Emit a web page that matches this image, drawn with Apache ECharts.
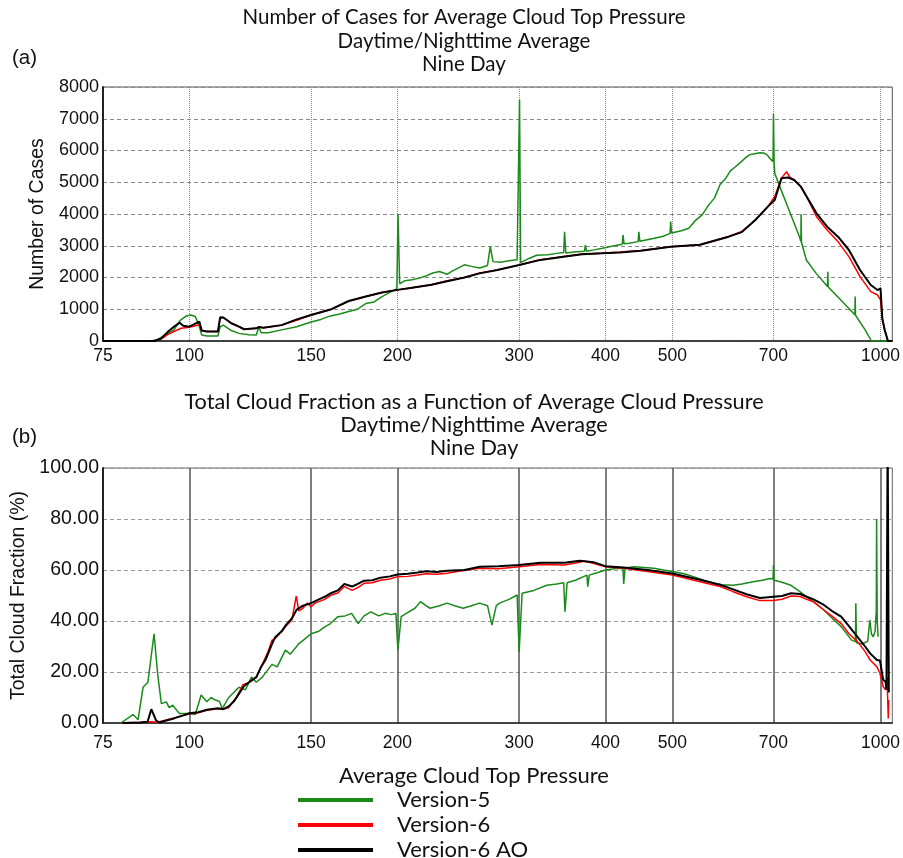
<!DOCTYPE html>
<html>
<head>
<meta charset="utf-8">
<script src="https://cdn.jsdelivr.net/npm/echarts@6/dist/echarts.min.js"></script>
<style>
html,body{margin:0;padding:0;background:#fff;}
#chart{width:903px;height:858px;}
</style>
</head>
<body>
<div id="chart"></div>
<script>
// ---------- tick labels ----------
const pressureTicks = [75, 100, 150, 200, 300, 400, 500, 700, 1000];
const casesTicks = [0, 1000, 2000, 3000, 4000, 5000, 6000, 7000, 8000];
const fractionTicks = [0, 20, 40, 60, 80, 100];
const seriesNames = ['Version-5', 'Version-6', 'Version-6 AO'];

// ---------- panel (a): number of cases ----------
const aPressV5 = [75,88,90,92,95,97,99,100.5,102,103.4,104.2,106,110,110.8,112,115,118,122,125,126,127,130,136,143,150,155,160,165,170,175,180,185,190,195,198,199.6,200.4,201.5,205,210,215,220,225,230,236,240,250,256,263,270,272.5,275,282,290,298,299.6,300.4,301.5,310,318,330,340,348,349,350.5,360,373,374,375.5,385,396,410,423,424,425.5,433,446,447,448.5,469,485,496,497,498.5,515,528,540,552,564,575,586,596,606,616,626,636,647,658,669,677,685,692,699,700,701.5,703,718,734,750,763,767,767.5,768.5,781,807,838,839,840,876,918,919,920,950,970,1040];
const aCasesV5 = [0,0,50,170,350,650,790,820,770,450,190,160,160,450,500,330,240,200,190,450,260,260,350,450,600,680,790,850,930,1000,1180,1230,1400,1530,1610,1640,4000,1800,1900,1930,1980,2050,2140,2190,2100,2200,2400,2350,2300,2380,2980,2500,2480,2530,2560,2570,7600,2470,2600,2700,2720,2760,2790,3440,2770,2800,2830,3020,2830,2870,2920,2990,3050,3340,3060,3080,3130,3440,3140,3230,3300,3390,3760,3400,3470,3550,3800,3970,4280,4500,4930,5100,5350,5480,5610,5750,5870,5900,5930,5920,5870,5750,5650,7150,5600,5280,4760,4230,3710,3290,3130,4000,3100,2550,2130,1720,2180,1700,1290,830,1400,810,350,0,0];

const aPressV6 = [75,89,91,93,95,97.3,100,103.4,104.2,106,110,110.8,112,115,118,120,125,126,128,136,143,150,160,170,180,190,200,210,224,236,250,263,279,300,320,348,370,396,420,450,497,548,603,630,659,687,703,719,731,740,750,767,782,808,837,868,900,934,968,990,1000,1006,1014,1025,1040];
const aCasesV6 = [0,0,60,200,300,400,430,510,320,300,300,720,740,560,450,370,400,440,420,500,650,820,990,1250,1400,1530,1610,1680,1770,1900,2000,2140,2240,2390,2550,2660,2740,2760,2800,2850,2970,3030,3290,3450,3810,4230,4550,5130,5330,5150,5071,4860,4546,3916,3496,3129,2656,2027,1554,1449,1292,700,346,0,0];

const aPressAO = [75,89,91,93,95,96.8,98,100,103.4,104.2,106,110,110.8,112,115,118,120,125,126,128,136,143,150,160,170,180,190,200,210,224,236,250,263,279,300,320,348,370,396,420,450,497,548,603,630,659,687,703,719,734,745,750,767,782,808,837,868,900,934,968,990,1000,1006,1014,1025,1040];
const aCasesAO = [0,0,80,280,450,577,480,450,610,330,300,300,745,740,560,450,370,400,440,420,500,682,820,990,1260,1400,1530,1610,1680,1770,1880,2000,2130,2236,2394,2540,2657,2730,2762,2790,2840,2972,3030,3286,3430,3812,4232,4440,5125,5150,5100,5071,4862,4546,4021,3600,3286,2866,2236,1764,1606,1659,700,346,0,0];

// ---------- panel (b): total cloud fraction ----------
const bPressV5 = [79.6,82.9,84.3,85.7,87.1,88.9,90,91.1,92.6,93.5,94.6,96.7,100,102,104,106,107.5,109,110.5,111.6,114,118,120.5,123,125,127.5,131.7,134,137.7,140,143.9,147,150,154,157,160,164,168,171.7,175.5,179,183,188,192,196,199,200.3,202.5,206,212,216,220,223,230,236,242,249,256,263,270,274,278,281,290,298,300,303,315,329,340,348,349.5,352,362,376,377,379,390,400,412,424,425,427,440,455,470,485,500,520,536,555,573,590,612,630,654,675,692,699,700,701.5,716,742,760,782,805,828,852,877,908,920,921,923,940,958,965,970,976,982,986,987,989,992];
const bFracV5 = [0,3.3,1.3,14,16,35,19,7.6,8.3,6,7,3.7,3.7,3.3,11,8.3,10,9,8.5,5.6,10,14,13,18,16,18,23,22,28.6,27,31,33,35,36,37.7,39,41.7,42,43,39,42,43.6,42,43,42.5,43,28.6,41.7,43,45,47.6,46,45,46,47,46,45,46,47,46,38.4,46,47,48.5,50.2,27.9,50.9,52,54,54.5,55,43.6,55,56,58,53.5,58,59,60,60.5,60.7,54.5,60.8,61.3,61,60.7,60,59.4,58.5,57.4,56,54.8,54.2,54,54.5,55.4,56,56.7,56.5,62,56,55.4,54,52,49.5,47,44.3,41,37.8,32.5,31.9,47,31.5,31,32,40.4,35,33.8,36,44,80,40,33.8];

const bPressV6 = [80,85,88,90,92,95,98,100,103,106,110,112,114,115,117,118,119.5,121,123,125,126.5,128,130,131.7,133,135,136,138,140.7,142.8,144,146,148,150,152,154,157,160.5,164,167.6,172,175,179,184,189,195,200,207,214,220,228,236,245,263,280,300,322,349,367,372,385,400,425,460,500,548,586,612,640,669,700,720,742,765,782,800,828,850,877,900,926,950,966,988,998,1009,1017,1022,1026,1028];
const bFracV6 = [0,0.3,0.5,0.3,1,2,3,3.5,4,5,5.6,5.5,6,7.5,10,12,15,15.5,16.5,18,21,24,28,32.5,33,35,35.8,38,40.4,49.8,44,45,47,45.6,47,47.6,48.5,50.2,51,53.5,52,53,54.8,55,56,56.5,57.4,57.5,58,58.5,58.3,58.7,59.5,60.7,60.5,61.3,62.2,62,63,63.5,62.5,61.3,60.7,59.4,58,55.4,53.5,51.5,49.5,48,48,48.5,49.8,49.6,48.5,47.5,44.3,42,39,35,31.9,28,24.7,22,19.5,14.2,13,18,1.8,9];

const bPressAO = [80,85,87,88.1,89.5,90.5,92,95,98,100,103,106,110,112,114,116,118,120,122,125,127,129,131.7,133,136,138,140.7,143,146,150,154,157,160.5,164,167.6,172,175,179,184,189,195,200,207,214,220,228,236,250,263,280,300,322,349,367,385,400,425,460,500,548,586,612,640,669,700,720,742,765,782,800,828,850,877,900,926,950,966,988,998,1009,1017,1020,1024,1028];
const bFracAO = [0,0.2,0.5,5.4,1,0.2,0.8,1.8,3,3.8,4.2,5.2,5.8,5.4,6.5,8.5,11.5,14.5,16,18,22,25,31,33.5,36,38.5,41,44.5,46,47,48.5,49.5,51,52,54.5,53.5,54.5,55.8,56,57,57.5,58.2,58.5,59,59.5,59.2,59.7,60,61.3,61.5,62,62.8,62.8,63.6,63,61.5,61,60,58.6,56.2,54.2,52.4,50.5,49,49.5,49.8,50.9,50.6,49.5,48.5,46.3,44,41.7,38,33.8,30,27.3,24.7,24.5,16.9,16.2,13,115,12];

// ---------- build ----------
const pairs = (xs, ys) => xs.map((x, i) => [x, ys[i]]);
const colors = ['#1a8a1a', '#ff0000', '#000000'];
const widths = [1.5, 1.5, 2];
const aData = [pairs(aPressV5, aCasesV5), pairs(aPressV6, aCasesV6), pairs(aPressAO, aCasesAO)];
const bData = [pairs(bPressV5, bFracV5), pairs(bPressV6, bFracV6), pairs(bPressAO, bFracAO)];

const tickFont = 'Liberation Sans, Arial, sans-serif';
const titleFont = 'Lato, sans-serif';

function xAxisFor(grid, vGridStyle, labelMargin) {
  return {
    type: 'log', logBase: 10, gridIndex: grid, min: 75, max: 1040,
    axisLine: { show: true, lineStyle: { color: '#222', width: 1.5 } },
    axisTick: { show: false, customValues: pressureTicks },
    axisLabel: { customValues: pressureTicks, formatter: v => String(Math.round(v)),
      fontSize: 17.5, color: '#111', fontFamily: tickFont, margin: labelMargin },
    splitLine: { show: true, lineStyle: vGridStyle }
  };
}

const series = [];
for (let k = 0; k < 3; k++) {
  series.push({ type: 'line', name: seriesNames[k], xAxisIndex: 0, yAxisIndex: 0, data: aData[k],
    showSymbol: false, color: colors[k], lineStyle: { color: colors[k], width: widths[k] }, z: 2 + k });
  series.push({ type: 'line', name: seriesNames[k], xAxisIndex: 1, yAxisIndex: 1, data: bData[k],
    showSymbol: false, color: colors[k], lineStyle: { color: colors[k], width: widths[k] }, z: 2 + k });
}

const option = {
  animation: false,
  backgroundColor: '#fff',
  title: [
    { text: 'Number of Cases for Average Cloud Top Pressure\nDaytime/Nighttime Average\nNine Day',
      left: 464, top: 6, textAlign: 'center', padding: 0,
      textStyle: { fontFamily: titleFont, fontWeight: 'normal', fontSize: 20.5, lineHeight: 23.5, color: '#111' } },
    { text: 'Total Cloud Fraction as a Function of Average Cloud Pressure\nDaytime/Nighttime Average\nNine Day',
      left: 474, top: 391, textAlign: 'center', padding: 0,
      textStyle: { fontFamily: titleFont, fontWeight: 'normal', fontSize: 21.7, lineHeight: 23, color: '#111' } },
    { text: '(a)', left: 12, top: 48, padding: 0, textStyle: { fontFamily: tickFont, fontWeight: 'normal', fontSize: 20.5, color: '#111' } },
    { text: '(b)', left: 12, top: 427, padding: 0, textStyle: { fontFamily: tickFont, fontWeight: 'normal', fontSize: 20.5, color: '#111' } },
    { text: 'Average Cloud Top Pressure', left: 474, top: 765, textAlign: 'center', padding: 0,
      textStyle: { fontFamily: titleFont, fontWeight: 'normal', fontSize: 22, color: '#111' } }
  ],
  legend: {
    data: seriesNames, orient: 'vertical', left: 298, top: 787.5, height: 80, padding: 0, itemGap: 0,
    itemWidth: 75, itemHeight: 4, icon: 'rect', selectedMode: false,
    textStyle: { fontFamily: titleFont, fontSize: 22, lineHeight: 25, color: '#111', padding: [0, 0, 0, 19] }
  },
  grid: [
    { left: 103, top: 87, width: 795, height: 254, show: true, borderColor: '#555', borderWidth: 1 },
    { left: 103, top: 468, width: 796, height: 255, show: true, borderColor: '#666', borderWidth: 1 }
  ],
  xAxis: [
    xAxisFor(0, { type: 'dotted', color: '#8a8a8a', width: 1 }, 6),
    xAxisFor(1, { type: 'solid', color: '#555', width: 1.5 }, 11)
  ],
  yAxis: [
    { type: 'value', gridIndex: 0, min: 0, max: 8000, interval: 1000,
      name: 'Number of Cases', nameLocation: 'middle', nameGap: 45,
      nameTextStyle: { fontFamily: tickFont, fontSize: 19.5, color: '#111' },
      axisLine: { show: true, lineStyle: { color: '#222', width: 2 } },
      axisTick: { show: false },
      axisLabel: { fontSize: 18, color: '#111', fontFamily: tickFont, margin: 4, formatter: v => String(v) },
      splitLine: { show: true, lineStyle: { type: [4, 3], color: '#8a8a8a', width: 1 } } },
    { type: 'value', gridIndex: 1, min: 0, max: 100, interval: 20,
      name: 'Total Cloud Fraction (%)', nameLocation: 'middle', nameGap: 66,
      nameTextStyle: { fontFamily: tickFont, fontSize: 19.5, color: '#111' },
      axisLine: { show: true, lineStyle: { color: '#222', width: 2 } },
      axisTick: { show: false },
      axisLabel: { fontSize: 19.5, color: '#111', fontFamily: tickFont, margin: 4, formatter: v => v.toFixed(2) },
      splitLine: { show: true, lineStyle: { type: [4, 3], color: '#999', width: 1 } } }
  ],
  series: series
};

const chart = echarts.init(document.getElementById('chart'), null, { renderer: 'canvas' });
chart.setOption(option);
</script>
</body>
</html>
